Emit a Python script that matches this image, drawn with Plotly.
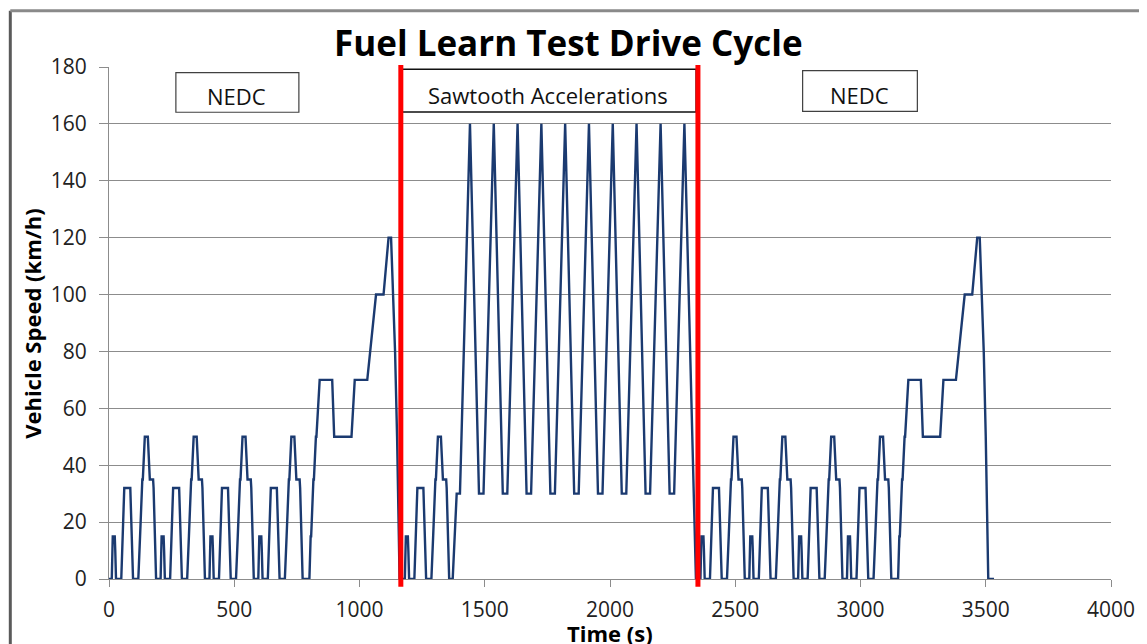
import plotly.graph_objects as go

# ---------------- data ----------------
# One ECE-15 urban cycle (time in s relative to cycle start, speed km/h)
ECE_T = [0, 11, 15, 23, 25, 28, 49, 54, 56, 61, 85, 93, 96, 117, 122, 124, 133, 135,
         143, 155, 163, 176, 178, 185, 188, 195]
ECE_SPEED = [0, 0, 15, 15, 10, 0, 0, 15, 15, 32, 32, 10, 0, 0, 15, 15, 35, 35,
             50, 50, 35, 35, 32, 10, 0, 0]
# Extra-urban (EUDC) part, relative to its start
EUDC_T = [0, 20, 25, 27, 36, 38, 46, 48, 61, 111, 119, 188, 201, 251, 286, 316,
          336, 346, 362, 370, 380]
EUDC_SPEED = [0, 0, 15, 15, 35, 35, 50, 50, 70, 70, 50, 50, 70, 70, 100, 100,
              120, 120, 80, 50, 0]

NEDC1_ECE_STARTS = [0, 195, 390, 585]
NEDC1_EUDC_START = 780
MID_ECE_START = 1170
NEDC2_ECE_STARTS = [2350, 2545, 2740, 2935]
NEDC2_EUDC_START = 3130
END_IDLE_T = [3533]
END_IDLE_SPEED = [0]

# Sawtooth accelerations section
SAW_T = [1372, 1388, 1401, 1441, 1477, 1495, 1536, 1572, 1590, 1631, 1667, 1685,
         1726, 1762, 1780, 1821, 1857, 1875, 1916, 1952, 1970, 2011, 2047, 2065,
         2106, 2142, 2160, 2202, 2238, 2256, 2297, 2343]
SAW_SPEED = [0, 30, 30, 160, 30, 30, 160, 30, 30, 160, 30, 30,
             160, 30, 30, 160, 30, 30, 160, 30, 30, 160, 30, 30,
             160, 30, 30, 160, 30, 30, 160, 0]

SECTION_BOUNDS = [1165, 2351]
BOX_LABELS = ["NEDC", "Sawtooth Accelerations", "NEDC"]
BOX_X0 = [267, 1170, 2769]
BOX_X1 = [758, 2344, 3227]
BOX_Y0 = [164.1, 164.2, 164.4]
BOX_Y1 = [178.0, 179.2, 178.7]

X_TICKS = [0, 500, 1000, 1500, 2000, 2500, 3000, 3500, 4000]
Y_TICKS = [0, 20, 40, 60, 80, 100, 120, 140, 160, 180]

# ---------------- build the trace ----------------
t, v = [], []


def add(offset, ts, vs):
    for a, b in zip(ts, vs):
        t.append(offset + a)
        v.append(b)


for s in NEDC1_ECE_STARTS:
    add(s, ECE_T, ECE_SPEED)
add(NEDC1_EUDC_START, EUDC_T, EUDC_SPEED)
add(MID_ECE_START, ECE_T, ECE_SPEED)
add(0, SAW_T, SAW_SPEED)
for s in NEDC2_ECE_STARTS:
    add(s, ECE_T, ECE_SPEED)
add(NEDC2_EUDC_START, EUDC_T, EUDC_SPEED)
add(0, END_IDLE_T, END_IDLE_SPEED)

FONT = "Open Sans"
TICKFONT = "Open Sans"
GRID = "#8c8c8c"

fig = go.Figure()
fig.add_trace(go.Scatter(x=t, y=v, mode="lines",
                         line=dict(color="#1b3a70", width=2.4),
                         showlegend=False, hoverinfo="x+y"))

shapes = []
# outer chart frame (left and top edges visible)
shapes.append(dict(type="line", xref="paper", yref="paper",
                   x0=-0.0985, x1=-0.0985, y0=1.110, y1=-0.3,
                   line=dict(color="#5a5a5a", width=3)))
shapes.append(dict(type="line", xref="paper", yref="paper",
                   x0=-0.0985, x1=1.2, y0=1.110, y1=1.110,
                   line=dict(color="#8a8a8a", width=3)))
# label boxes
for i, lab in enumerate(BOX_LABELS):
    shapes.append(dict(type="rect", xref="x", yref="y",
                       x0=BOX_X0[i], x1=BOX_X1[i], y0=BOX_Y0[i], y1=BOX_Y1[i],
                       fillcolor="white",
                       line=dict(color="#111111" if i == 1 else "#404040",
                                 width=1.6 if i == 1 else 1.2)))
# red section boundaries
for xb in SECTION_BOUNDS:
    shapes.append(dict(type="line", xref="x", yref="paper",
                       x0=xb, x1=xb, y0=-0.015, y1=1.004,
                       line=dict(color="#ff0000", width=5)))

annotations = []
for i, lab in enumerate(BOX_LABELS):
    annotations.append(dict(x=(BOX_X0[i] + BOX_X1[i]) / 2 - 3, y=(BOX_Y0[i] + BOX_Y1[i]) / 2 - 1.4,
                            xref="x", yref="y", text=lab, showarrow=False,
                            font=dict(family=FONT, size=22, color="#111111"),
                            xanchor="center", yanchor="middle"))
annotations.append(dict(x=0.459, y=1.048, xref="paper", yref="paper",
                        text="<b>Fuel Learn Test Drive Cycle</b>", showarrow=False,
                        font=dict(family=FONT, size=35, color="#000000"),
                        xanchor="center", yanchor="middle"))
annotations.append(dict(x=-0.077, y=0.5, xref="paper", yref="paper",
                        text="<b>Vehicle Speed (km/h)</b>", showarrow=False,
                        textangle=-90,
                        font=dict(family=FONT, size=22, color="#000000"),
                        xanchor="center", yanchor="middle"))
annotations.append(dict(x=0.5, y=-0.072, xref="paper", yref="paper",
                        text="<b>Time (s)</b>", showarrow=False,
                        font=dict(family=FONT, size=22, color="#000000"),
                        xanchor="center", yanchor="top"))

fig.update_layout(
    width=1139, height=636,
    margin=dict(l=101, r=34, t=59, b=64.5),
    paper_bgcolor="white", plot_bgcolor="white",
    shapes=shapes, annotations=annotations,
    showlegend=False,
    xaxis=dict(range=[0, 4000], tickvals=X_TICKS, showgrid=False, zeroline=False,
               showline=True, linecolor=GRID, linewidth=1,
               ticks="outside", ticklen=7, tickcolor=GRID,
               ticklabelstandoff=5,
               tickfont=dict(family=TICKFONT, size=21, color="#222222")),
    yaxis=dict(range=[0, 180], tickvals=Y_TICKS, showgrid=True, gridcolor=GRID,
               gridwidth=1, zeroline=False,
               showline=True, linecolor=GRID, linewidth=1,
               ticks="outside", ticklen=9, tickcolor=GRID,
               ticklabelstandoff=8,
               tickfont=dict(family=TICKFONT, size=21, color="#222222")),
)

fig.write_html("out.html")
